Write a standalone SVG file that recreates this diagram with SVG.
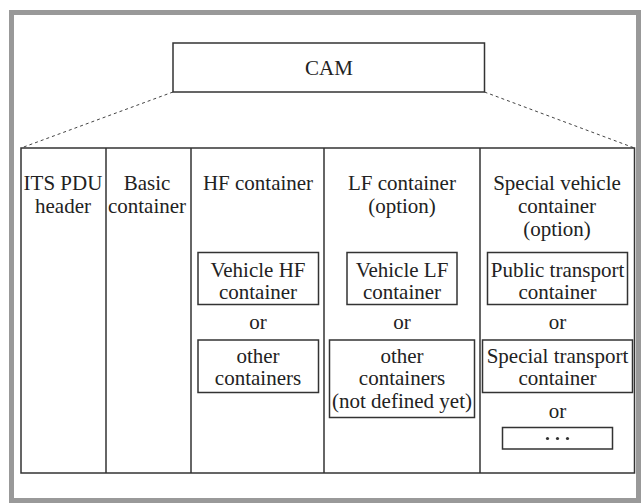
<svg xmlns="http://www.w3.org/2000/svg" width="642" height="503" viewBox="0 0 642 503">
<style>
  .frame { fill: #ffffff; stroke: #999999; stroke-width: 5; }
  .box { fill: #ffffff; stroke: #333333; stroke-width: 1.5; }
  .line { stroke: #333333; stroke-width: 1.5; fill: none; }
  .dot { stroke: #444444; stroke-width: 1; stroke-dasharray: 3 3; fill: none; }
  text { font-family: "Liberation Serif", "Times New Roman", serif; font-size: 21px; fill: #222222; text-anchor: middle; }
</style>
<rect class="frame" x="11.5" y="12.5" width="627" height="488"/>
<g id="connectors">
  <line class="dot" x1="173" y1="92" x2="21" y2="148"/>
  <line class="dot" x1="484.5" y1="92" x2="634.5" y2="148"/>
</g>
<g id="cam">
  <rect class="box" x="173" y="43" width="311.5" height="49"/>
  <text x="329" y="75">CAM</text>
</g>
<g id="table">
  <rect class="box" x="21" y="148" width="613.5" height="325"/>
  <line class="line" x1="106" y1="148" x2="106" y2="473"/>
  <line class="line" x1="191" y1="148" x2="191" y2="473"/>
  <line class="line" x1="324" y1="148" x2="324" y2="473"/>
  <line class="line" x1="480" y1="148" x2="480" y2="473"/>
</g>
<g id="its-pdu-header">
  <text x="63" y="190">ITS PDU</text>
  <text x="63" y="213">header</text>
</g>
<g id="basic-container">
  <text x="147" y="190">Basic</text>
  <text x="147" y="213">container</text>
</g>
<g id="hf-container">
  <text x="258" y="190">HF container</text>
</g>
<g id="vehicle-hf">
  <rect class="box" x="198" y="252.5" width="120.5" height="52"/>
  <text x="258" y="277">Vehicle HF</text>
  <text x="258" y="299">container</text>
</g>
<text x="258" y="329">or</text>
<g id="other-hf">
  <rect class="box" x="198" y="340" width="120.5" height="52.5"/>
  <text x="258" y="363">other</text>
  <text x="258" y="385">containers</text>
</g>
<g id="lf-container">
  <text x="402" y="190">LF container</text>
  <text x="402" y="213">(option)</text>
</g>
<g id="vehicle-lf">
  <rect class="box" x="347" y="252.5" width="110" height="52"/>
  <text x="402" y="277">Vehicle LF</text>
  <text x="402" y="299">container</text>
</g>
<text x="402" y="329">or</text>
<g id="other-lf">
  <rect class="box" x="329.5" y="340" width="145" height="77.5"/>
  <text x="402" y="363">other</text>
  <text x="402" y="385">containers</text>
  <text x="402" y="408">(not defined yet)</text>
</g>
<g id="special-vehicle-container">
  <text x="557" y="190">Special vehicle</text>
  <text x="557" y="213">container</text>
  <text x="557" y="236">(option)</text>
</g>
<g id="public-transport">
  <rect class="box" x="487.5" y="252.5" width="140" height="52"/>
  <text x="557.5" y="277">Public transport</text>
  <text x="557.5" y="299">container</text>
</g>
<text x="557.5" y="329">or</text>
<g id="special-transport">
  <rect class="box" x="482.5" y="340" width="150" height="52.5"/>
  <text x="557.5" y="363">Special transport</text>
  <text x="557.5" y="385">container</text>
</g>
<text x="557.5" y="418">or</text>
<g id="more">
  <rect class="box" x="502.5" y="427.5" width="110" height="21.5"/>
  <circle cx="547.5" cy="438.5" r="1.6" fill="#333333"/>
  <circle cx="557.5" cy="438.5" r="1.6" fill="#333333"/>
  <circle cx="567.5" cy="438.5" r="1.6" fill="#333333"/>
</g>
</svg>
